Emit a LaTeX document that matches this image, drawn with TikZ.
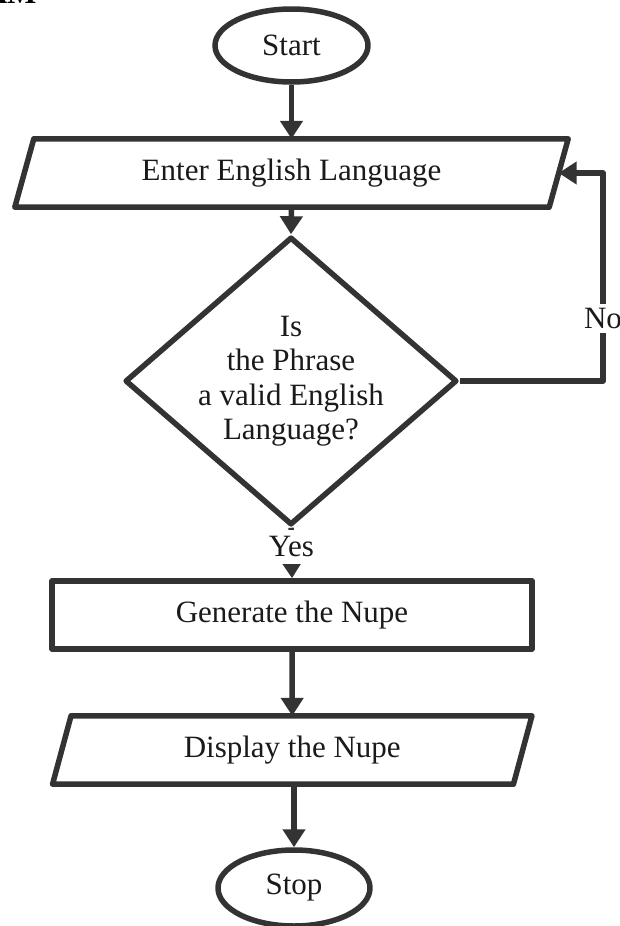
\documentclass[tikz,border=0pt]{standalone}
\usepackage{fontspec}
\setmainfont{Liberation Serif}
\usetikzlibrary{arrows.meta,shapes.geometric,calc}
\definecolor{ln}{HTML}{333333}
\definecolor{tx}{HTML}{1A1A1A}
\begin{document}
\begin{tikzpicture}[x=1pt,y=-1pt,
  every node/.style={text=tx, font=\fontsize{31}{34.5}\selectfont},
  ln/.style={draw=ln, line width=5.5pt, line join=round},
  term/.style={ln, ellipse, minimum width=153pt, minimum height=73pt, inner sep=0pt},
  box/.style={ln, rectangle, minimum width=480pt, minimum height=68pt, inner sep=0pt},
  frame/.style={rectangle, minimum height=68pt, inner sep=0pt},
  arr/.style={ln, -{Triangle[width=22pt,length=18pt]}},
  lbl/.style={fill=white, inner sep=4pt}]
\clip (0,0) rectangle (620,926);
\fill[white] (0,0) rectangle (620,926);
\node[anchor=base east, font=\fontsize{31}{34}\selectfont\bfseries, text=black] (hd) at (40,4) {AM};
\node[term] (start) at (291.5,45.5) {Start};
\node[frame, minimum width=534pt] (in) at (291.5,173) {Enter English Language};
\draw[ln] ($(in.north west)+(9.5,0)$) -- ($(in.north east)+(9.5,0)$) -- ($(in.south east)+(-9.5,0)$) -- ($(in.south west)+(-9.5,0)$) -- cycle;
\node[ln, diamond, minimum width=332pt, minimum height=288pt, inner sep=0pt] (q) at (291,381) {};
\node[align=center] (qt) at (q.center) {Is\\the Phrase\\a valid English\\Language?};
\node[box] (gen) at (292,615) {Generate the Nupe};
\node[frame, minimum width=460.5pt] (disp) at (292.25,750) {Display the Nupe};
\draw[ln] ($(disp.north west)+(9.25,0)$) -- ($(disp.north east)+(9.25,0)$) -- ($(disp.south east)+(-9.25,0)$) -- ($(disp.south west)+(-9.25,0)$) -- cycle;
\node[term, minimum width=152pt, minimum height=76pt] (stop) at (294,888) {Stop};
\draw[arr] (start.south) -- (in.north);
\draw[arr] (in.south) -- (q.north);
\draw[arr] (q.south) -- node[lbl, pos=0.38, inner ysep=7pt]{Yes} (gen.north);
\draw[arr] (gen.south) -- (disp.north);
\draw[arr] (disp.south -| stop.north) -- (stop.north);
\coordinate (lp) at (603,381);
\draw[arr] (q.east) -- (lp) |- node[lbl, pos=0.15]{No} (in.east);
\end{tikzpicture}
\end{document}
